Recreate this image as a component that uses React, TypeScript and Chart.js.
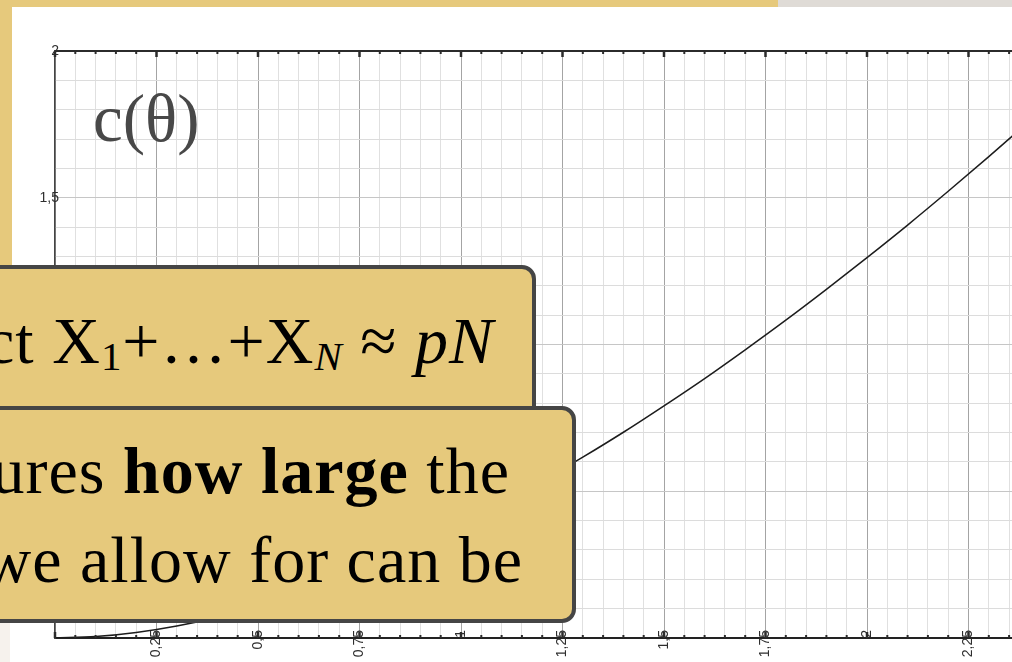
import { useEffect, useRef } from 'react';
import { Chart, registerables } from 'chart.js';

Chart.register(...registerables);

// θ sample points and the corresponding values of c(θ)
const thetaValues = [
  0, 0.1, 0.2, 0.3, 0.4, 0.5, 0.6, 0.7, 0.8, 0.9, 1.0, 1.1, 1.2,
  1.3, 1.4, 1.5, 1.6, 1.7, 1.8, 1.9, 2.0, 2.1, 2.2, 2.3, 2.4, 2.5,
];
const cValues = [
  0, 0.005, 0.019, 0.041, 0.071, 0.108, 0.152, 0.202, 0.258, 0.320, 0.386, 0.458, 0.535,
  0.616, 0.701, 0.791, 0.884, 0.982, 1.083, 1.188, 1.296, 1.407, 1.522, 1.640, 1.761, 1.885,
];

// Labelled tick positions (every 0.25 on θ, every 0.5 on c)
const xTickLabels = ['0,25', '0,5', '0,75', '1', '1,25', '1,5', '1,75', '2', '2,25', '2,5'];
const yTickLabels = ['0,5', '1', '1,5', '2'];

const X_MAX = 2.5;
const Y_MAX = 2;
const LABEL_FONT = "14px 'Liberation Sans', Arial, sans-serif";

const isXMajor = (v: number) => Math.round(v * 100) % 25 === 0;
const isYMajor = (v: number) => Math.round(v * 10) % 5 === 0;

const xLabelFor = (v: number) => {
  if (!isXMajor(v)) return '';
  const idx = Math.round(v / 0.25) - 1;
  return idx >= 0 ? xTickLabels[idx] : '';
};
const yLabelFor = (v: number) => {
  if (!isYMajor(v)) return '';
  const idx = Math.round(v / 0.5) - 1;
  return idx >= 0 ? yTickLabels[idx] : '';
};

// Top frame line, inward tick marks and tick labels that sit across the axis lines
const frameTicks = {
  id: 'frameTicks',
  afterDraw(chart: any) {
    const { ctx, chartArea, scales } = chart;
    const { top, bottom, left, right } = chartArea;
    const x = scales.x;
    const y = scales.y;
    ctx.save();
    ctx.strokeStyle = '#2b2b2b';
    ctx.lineWidth = 2;
    ctx.beginPath();
    ctx.moveTo(left, top);
    ctx.lineTo(right, top);
    ctx.stroke();
    x.ticks.forEach((t: any) => {
      const px = x.getPixelForValue(t.value);
      const major = isXMajor(t.value);
      const len = major ? 6 : 3;
      ctx.lineWidth = major ? 2.5 : 2;
      ctx.beginPath();
      ctx.moveTo(px, top);
      ctx.lineTo(px, top + len);
      ctx.stroke();
      ctx.beginPath();
      ctx.moveTo(px, bottom);
      ctx.lineTo(px, bottom - len);
      ctx.stroke();
    });

    ctx.fillStyle = '#2e2e2e';
    ctx.font = LABEL_FONT;
    x.ticks.forEach((t: any) => {
      const label = xLabelFor(t.value);
      if (!label) return;
      const px = x.getPixelForValue(t.value);
      ctx.save();
      ctx.translate(px, bottom - 8);
      ctx.rotate(-Math.PI / 2);
      ctx.textAlign = 'right';
      ctx.textBaseline = 'middle';
      ctx.fillText(label, 0, 0);
      ctx.restore();
    });
    y.ticks.forEach((t: any) => {
      const label = yLabelFor(t.value);
      if (!label) return;
      const py = y.getPixelForValue(t.value);
      ctx.textAlign = 'right';
      ctx.textBaseline = 'middle';
      ctx.fillText(label, left + 4, py);
    });
    ctx.restore();
  },
};

function CurveChart() {
  const canvasRef = useRef<HTMLCanvasElement | null>(null);

  useEffect(() => {
    if (!canvasRef.current) return;
    const points = thetaValues.map((t, i) => ({ x: t, y: cValues[i] }));
    const chart = new Chart(canvasRef.current, {
      type: 'line',
      data: {
        datasets: [
          {
            data: points,
            borderColor: '#1c1c1c',
            borderWidth: 1.5,
            pointRadius: 0,
            cubicInterpolationMode: 'monotone',
            fill: false,
          },
        ],
      },
      options: {
        animation: false,
        responsive: false,
        events: [],
        layout: { padding: { top: 51, right: 0, left: 0, bottom: 0 } },
        plugins: {
          legend: { display: false },
          tooltip: { enabled: false },
          title: { display: false },
        },
        scales: {
          x: {
            type: 'linear',
            min: 0,
            max: X_MAX,
            afterFit: (s: any) => {
              s.height = 24;
              s.paddingLeft = 0;
              s.paddingRight = 0;
            },
            border: { color: '#222', width: 2 },
            grid: {
              drawTicks: false,
              lineWidth: 1,
              color: (c: any) => (c.tick && isXMajor(c.tick.value) ? '#a4a4a4' : '#e0e0e0'),
            },
            ticks: { stepSize: 0.05, autoSkip: false, display: false },
          },
          y: {
            type: 'linear',
            min: 0,
            max: Y_MAX,
            afterFit: (s: any) => {
              s.width = 55;
            },
            border: { color: '#444', width: 1.5 },
            grid: {
              drawTicks: false,
              lineWidth: 1,
              color: (c: any) => (c.tick && isYMajor(c.tick.value) ? '#c6c6c6' : '#dcdcdc'),
            },
            ticks: { stepSize: 0.1, autoSkip: false, display: false },
          },
        },
      },
      plugins: [frameTicks],
    });
    return () => chart.destroy();
  }, []);

  return (
    <canvas
      ref={canvasRef}
      width={1070}
      height={662}
      style={{ position: 'absolute', left: 0, top: 0, width: 1070, height: 662 }}
    />
  );
}

const boxFill = '#e6c97c';
const boxBorder = '4px solid #454545';
const serif = "'Liberation Serif', 'Times New Roman', serif";

const lineStyle = (top: number, rightEnd: number): React.CSSProperties => ({
  position: 'absolute',
  top,
  right: 1012 - rightEnd - 1,
  whiteSpace: 'nowrap',
  fontFamily: serif,
  fontSize: 66,
  lineHeight: '66px',
  letterSpacing: 1,
  color: '#000',
});

const sub: React.CSSProperties = {
  fontSize: '0.62em',
  position: 'relative',
  top: '0.18em',
};

export default function App() {
  return (
    <div
      style={{
        position: 'fixed',
        left: 0,
        top: 0,
        width: 1012,
        height: 662,
        overflow: 'hidden',
        background: '#ffffff',
      }}
    >
      {/* slide frame */}
      <div style={{ position: 'absolute', left: 0, top: 0, width: 778, height: 7, background: boxFill }} />
      <div style={{ position: 'absolute', left: 778, top: 0, width: 234, height: 7, background: '#dfdbd6' }} />
      <div style={{ position: 'absolute', left: 0, top: 0, width: 12, height: 500, background: boxFill }} />
      <div style={{ position: 'absolute', left: 0, top: 500, width: 10, height: 162, background: '#f6f2ed' }} />

      <CurveChart />

      <div
        style={{
          position: 'absolute',
          left: 93,
          top: 85,
          fontFamily: serif,
          fontSize: 67,
          lineHeight: '66px',
          color: '#484848',
          whiteSpace: 'nowrap',
        }}
      >
        c(θ)
      </div>

      <div
        style={{
          position: 'absolute',
          left: -30,
          top: 265,
          width: 566,
          height: 170,
          boxSizing: 'border-box',
          background: boxFill,
          border: boxBorder,
          borderRadius: 14,
        }}
      />
      <div style={lineStyle(308, 493)}>
        ct X<span style={sub}>1</span>+…+X<span style={sub}><i>N</i></span> ≈ <i>pN</i>
      </div>

      <div
        style={{
          position: 'absolute',
          left: -30,
          top: 406,
          width: 606,
          height: 217,
          boxSizing: 'border-box',
          background: boxFill,
          border: boxBorder,
          borderRadius: 14,
        }}
      />
      <div style={lineStyle(438, 509)}>
        ures <b>how large</b> the
      </div>
      <div style={lineStyle(527, 522)}>we allow for can be</div>
    </div>
  );
}
